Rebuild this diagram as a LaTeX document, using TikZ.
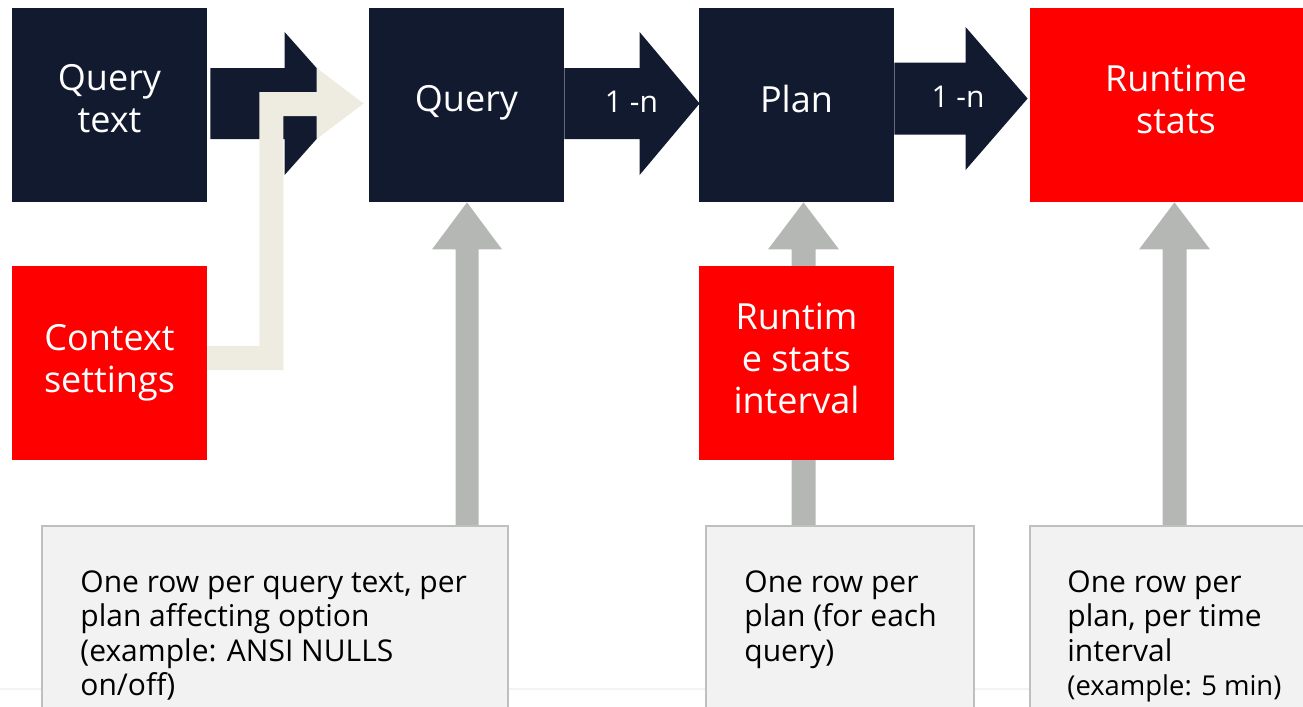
\documentclass[tikz,border=0pt]{standalone}
\usepackage{fontspec}
\setmainfont{Open Sans}
\usetikzlibrary{calc}
\definecolor{navy}{HTML}{111A2E}
\definecolor{brred}{HTML}{FF0000}
\definecolor{beige}{HTML}{EEEBE0}
\definecolor{garrow}{HTML}{B5B7B4}
\definecolor{nbfill}{HTML}{F2F2F2}
\definecolor{nbline}{HTML}{BFBFBF}
\definecolor{faint}{HTML}{F3F3F3}
% block arrow pointing right: base, tip, shaft half, head half, head length, colour
\newcommand\blkH[6]{%
  \fill[#6] ($(#1)+(0,-#3)$) -- ($(#2)+(-#5,-#3)$) -- ($(#2)+(-#5,-#4)$) -- (#2)
    -- ($(#2)+(-#5,#4)$) -- ($(#2)+(-#5,#3)$) -- ($(#1)+(0,#3)$) -- cycle;}
% block arrow pointing up: base, tip, shaft half, head half, head length, colour
\newcommand\blkV[6]{%
  \fill[#6] ($(#1)+(-#3,0)$) -- ($(#2)+(-#3,#5)$) -- ($(#2)+(-#4,#5)$) -- (#2)
    -- ($(#2)+(#4,#5)$) -- ($(#2)+(#3,#5)$) -- ($(#1)+(#3,0)$) -- cycle;}
\begin{document}
\begin{tikzpicture}[x=0.5pt,y=-0.5pt,
  box/.style={minimum width=97.5pt, minimum height=97pt, inner sep=0pt},
  navybox/.style={box, fill=navy},
  redbox/.style={box, fill=brred},
  boxtext/.style={text=white, align=center, inner sep=0pt,
    font=\fontsize{18}{21}\selectfont},
  notebox/.style={fill=nbfill, draw=nbline, line width=0.8pt, anchor=north west, inner sep=0pt,
    minimum height=100pt},
  notetext/.style={anchor=north west, align=left, inner sep=0pt,
    font=\fontsize{15}{17.25}\selectfont, text=black},
  lbl/.style={text=white, font=\fontsize{15}{18}\selectfont, inner sep=0pt}]
\useasboundingbox (0,0) rectangle (1303,707);
\clip (0,0) rectangle (1303,707);

\draw[faint, line width=0.6pt] (0,689) -- (1303,689);

% main boxes
\node[navybox] (qt)  at (109.5,105) {};
\node[navybox] (q)   at (466.5,105) {};
\node[navybox] (p)   at (796.5,105) {};
\node[redbox, minimum width=146pt] (rs) at (1176,105) {};

% bottom note boxes
\node[notebox, minimum width=233pt] (b1) at (41,525) {};
\node[notebox, minimum width=134pt] (b2) at (705,525) {};
\node[notebox, minimum width=150pt] (b3) at (1029,525) {};

% grey upward arrows
\coordinate (v1t) at ($(q.south)+(0.5,0)$);
\coordinate (v1b) at (v1t |- b1.north);
\coordinate (v2t) at ($(p.south)+(7,0)$);
\coordinate (v2b) at (v2t |- b2.north);
\coordinate (v3t) at ($(rs.south)+(-1.5,0)$);
\coordinate (v3b) at (v3t |- b3.north);
\blkV{v1b}{v1t}{11.5}{35}{47}{garrow}
\blkV{v2b}{v2t}{12}{35.5}{47}{garrow}
\blkV{v3b}{v3t}{12}{35.5}{47}{garrow}

% redraw note boxes over the arrow ends
\node[notebox, minimum width=233pt] at (b1.north west) {};
\node[notebox, minimum width=134pt] at (b2.north west) {};
\node[notebox, minimum width=150pt] at (b3.north west) {};

% red boxes
\node[redbox] (ctx) at (109.5,363) {};
\node[redbox] (rsi) at (796.5,363) {};

% box texts
\node[boxtext] (qtl)  at ($(qt.center)+(0,-6)$)  {Query\\text};
\node[boxtext] (ql)   at ($(q.center)+(0,-2)$)   {Query};
\node[boxtext] (pl)   at ($(p.center)+(0,-6)$)   {Plan};
\node[boxtext] (rsl)  at ($(rs.center)+(0,-6)$)  {Runtime\\stats};
\node[boxtext] (ctxl) at ($(ctx.center)+(0,0)$)  {Context\\settings};
\node[boxtext] (rsil) at ($(rsi.center)+(0,-5)$) {Runtim\\e stats\\interval};

% dark arrow query text -> query
\coordinate (a1t) at ($(q.west)+(-20.5,-1.5)$);
\coordinate (a1b) at ($(qt.east |- a1t)+(3,0)$);
\blkH{a1b}{a1t}{35.5}{71.5}{63.5}{navy}

% beige bent arrow context settings -> query
\coordinate (bs) at ($(ctx.east)+(0,-5)$);
\coordinate (bt) at ($(q.west)+(-5,-1.5)$);
\coordinate (bc) at ($(qt.east)+(64,0)$);
\coordinate (c1) at ($(bs)+(0,-12)$);
\coordinate (c2) at ($(bc |- c1)+(-12,0)$);
\coordinate (c4) at ($(bt)+(-47,-11.5)$);
\coordinate (c3) at ($(bc |- c4)+(-12,0)$);
\coordinate (c8) at ($(bt)+(-47,12.5)$);
\coordinate (c9) at ($(bc |- c8)+(12,0)$);
\coordinate (c11) at ($(bs)+(0,12)$);
\coordinate (c10) at ($(bc |- c11)+(12,0)$);
\fill[beige] (c1) -- (c2) -- (c3) -- (c4) -- ($(bt)+(-47,-35.5)$) -- (bt)
  -- ($(bt)+(-47,35.5)$) -- (c8) -- (c9) -- (c10) -- (c11) -- cycle;

% dark arrows with labels
\coordinate (a2t) at ($(p.west)+(1,-1.5)$);
\coordinate (a2b) at (q.east |- a2t);
\blkH{a2b}{a2t}{35.5}{71.5}{60}{navy}
\coordinate (a3t) at ($(rs.west)+(-2,-6.5)$);
\coordinate (a3b) at (p.east |- a3t);
\blkH{a3b}{a3t}{36}{71.5}{62}{navy}
\node[lbl] (l1) at ($($(q.east)!0.5!(p.west)$)+(0,-3)$) {1 -n};
\node[lbl] (l2) at ($($(p.east)!0.5!(rs.west)$)+(-4,-8)$) {1 -n};

% note texts
\node[notetext] (t1) at ($(b1.north west)+(39,45)$)
  {One row per query text, per\\plan affecting option\\(example: ANSI NULLS\\on/off)};
\node[notetext] (t2) at ($(b2.north west)+(39,45)$)
  {One row per\\plan (for each\\query)};
\node[notetext] (t3) at ($(b3.north west)+(38,45)$)
  {One row per\\plan, per time\\interval\\{\fontsize{13.7}{17.25}\selectfont(example: 5 min)}};
\end{tikzpicture}
\end{document}
